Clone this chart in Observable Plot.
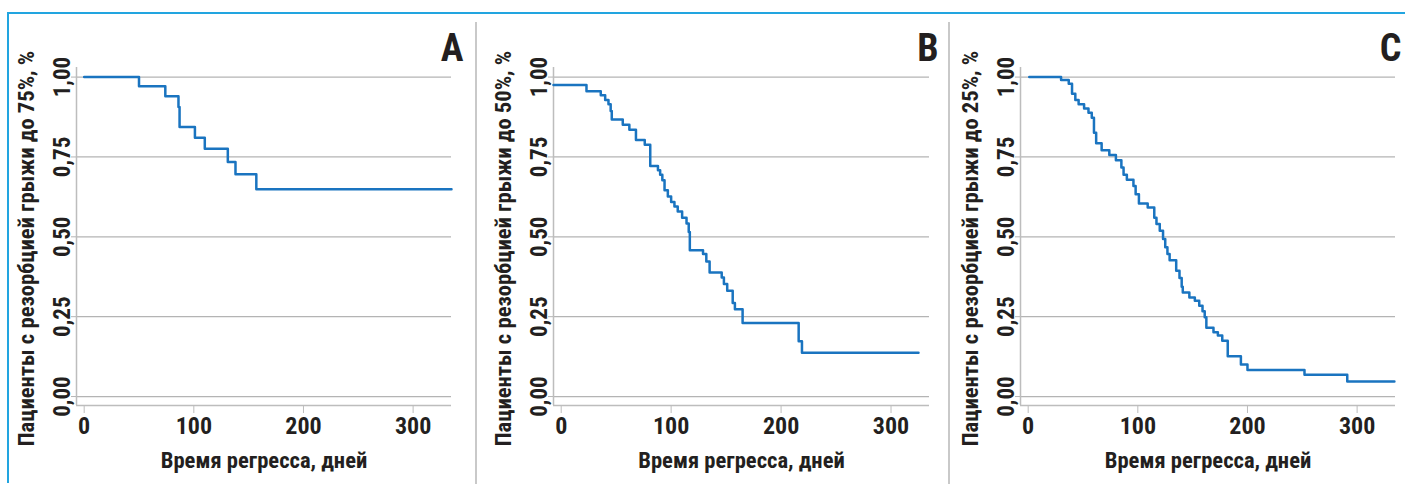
<!DOCTYPE html>
<html>
<head>
<meta charset="utf-8">
<script src="https://cdn.jsdelivr.net/npm/d3@7"></script>
<script src="https://cdn.jsdelivr.net/npm/@observablehq/plot@0.6"></script>
<style>
  html, body { margin: 0; padding: 0; background: #fff; }
  #wrap { position: relative; width: 1405px; height: 484px; overflow: hidden; background: #fff; }
  .panel { position: absolute; top: 0; }
  .border-top { position: absolute; left: 8px; top: 12px; width: 1397px; height: 0; border-top: 2px solid #22a5e0; }
  .border-left { position: absolute; left: 7px; top: 12px; width: 0; height: 471px; border-left: 2px solid #22a5e0; }
  .sep { position: absolute; top: 22px; width: 0; height: 462px; border-left: 2px solid #c9c9c9; }
</style>
</head>
<body>
<div id="wrap">
  <div class="border-top"></div>
  <div class="border-left"></div>
  <div class="sep" style="left:475px"></div>
  <div class="sep" style="left:948px"></div>
</div>
<script>
// ---- data ----
const panelLetters = ["A", "B", "C"];
const yTitles = [
  "Пациенты с резорбцией грыжи до 75%, %",
  "Пациенты с резорбцией грыжи до 50%, %",
  "Пациенты с резорбцией грыжи до 25%, %"
];
const xTitle = "Время регресса, дней";
const xTicks = [0, 100, 200, 300];
const yTicks = [0, 0.25, 0.5, 0.75, 1];
const xDomain = [-7, 335];
const yDomain = [-0.028, 1.03];

const daysA = [0, 50, 74, 86, 87, 101, 110, 131, 138, 157, 335];
const survA = [1.00, 0.971, 0.940, 0.906, 0.844, 0.810, 0.776, 0.734, 0.696, 0.649, 0.649];

const daysB = [-7, 23, 36, 40, 43, 45, 46, 56, 62, 68, 76, 81, 88, 90, 92, 94, 97, 100, 103, 106,
               110, 114, 116, 117, 129, 132, 135, 146, 148, 151, 156, 158, 165, 216, 219, 325];
const survB = [0.975, 0.956, 0.943, 0.928, 0.915, 0.894, 0.867, 0.851, 0.835, 0.803, 0.788, 0.722, 0.708, 0.694, 0.677, 0.646, 0.626, 0.609, 0.595, 0.579,
               0.560, 0.542, 0.515, 0.458, 0.446, 0.423, 0.388, 0.373, 0.352, 0.331, 0.293, 0.273, 0.230, 0.173, 0.137, 0.137];

const daysC = [1, 30, 37, 40, 43, 46, 51, 55, 58, 60, 62, 67, 74, 80, 85, 87, 90, 96, 98, 101,
               109, 115, 117, 120, 123, 125, 127, 129, 135, 138, 140, 141, 147, 152, 156, 159, 161, 162.5, 169, 173,
               177, 182, 194, 200, 252, 291, 334];
const survC = [1.0, 0.991, 0.979, 0.948, 0.928, 0.915, 0.902, 0.888, 0.873, 0.826, 0.793, 0.771, 0.756, 0.740, 0.717, 0.694, 0.679, 0.659, 0.633, 0.604,
               0.592, 0.560, 0.540, 0.519, 0.493, 0.467, 0.446, 0.427, 0.394, 0.371, 0.344, 0.326, 0.310, 0.300, 0.284, 0.267, 0.248, 0.215, 0.201, 0.191,
               0.175, 0.126, 0.100, 0.083, 0.068, 0.047, 0.047];

// ---- layout ----
const FONT = '"Liberation Sans Narrow", "Roboto Condensed", "DejaVu Sans Condensed", "DejaVu Sans", sans-serif';
const TEXT = "#231f20";
const GRID = "#b4b4b4";
const LINE = "#1a74c0";

const layouts = [
  {left: 0,   width: 470, marginLeft: 76, marginRight: 19, letterDx: 12},
  {left: 470, width: 470, marginLeft: 83, marginRight: 11, letterDx: 9},
  {left: 940, width: 465, marginLeft: 80, marginRight: 10, letterDx: 6}
];
const series = [[daysA, survA], [daysB, survB], [daysC, survC]];

const wrap = document.getElementById("wrap");

series.forEach(([days, surv], i) => {
  const L = layouts[i];
  const rows = days.map((d, j) => ({day: d, s: surv[j]}));
  const fmt = (v) => v.toFixed(2).replace(".", ",");
  const chart = Plot.plot({
    width: L.width,
    height: 484,
    marginLeft: L.marginLeft,
    marginRight: L.marginRight,
    marginTop: 67,
    marginBottom: 79,
    style: {fontFamily: FONT, fontStretch: "condensed", background: "transparent", color: TEXT, overflow: "visible"},
    x: {domain: xDomain},
    y: {domain: yDomain},
    marks: [
      Plot.ruleY(yTicks, {stroke: GRID, strokeWidth: 1.3}),
      Plot.ruleX([xDomain[0]], {stroke: "#bdbdbd", strokeWidth: 1.5}),
      Plot.ruleY([yDomain[0]], {stroke: "#bdbdbd", strokeWidth: 1.5}),
      Plot.axisY(yTicks, {
        tickSize: 5, tickPadding: 2, tickRotate: -90, stroke: GRID, fill: TEXT,
        tickFormat: fmt, fontSize: 23, fontWeight: "bold", label: null
      }),
      Plot.axisX(xTicks, {
        tickSize: 8, tickPadding: 3, stroke: "#bdbdbd", fill: TEXT,
        fontSize: 24, fontWeight: "bold", label: null
      }),
      Plot.line(rows, {x: "day", y: "s", curve: "step-after", stroke: LINE, strokeWidth: 2.5}),
      Plot.text([xTitle], {frameAnchor: "bottom", dy: 55, lineAnchor: "middle", textAnchor: "middle", fontSize: 22.6, fontWeight: "bold", fill: TEXT}),
      Plot.text([yTitles[i]], {frameAnchor: "left", dx: -49.5, dy: 12, rotate: -90, textAnchor: "middle", lineAnchor: "middle", fontSize: 22.6, fontWeight: "bold", fill: TEXT}),
      Plot.text([panelLetters[i]], {frameAnchor: "top-right", dx: L.letterDx, dy: -7, textAnchor: "end", lineAnchor: "bottom", fontSize: 38, fontWeight: "bold", fill: TEXT})
    ]
  });
  chart.classList.add("panel");
  chart.style.left = L.left + "px";
  chart.style.position = "absolute";
  chart.style.top = "0px";
  wrap.appendChild(chart);
});
</script>
</body>
</html>
